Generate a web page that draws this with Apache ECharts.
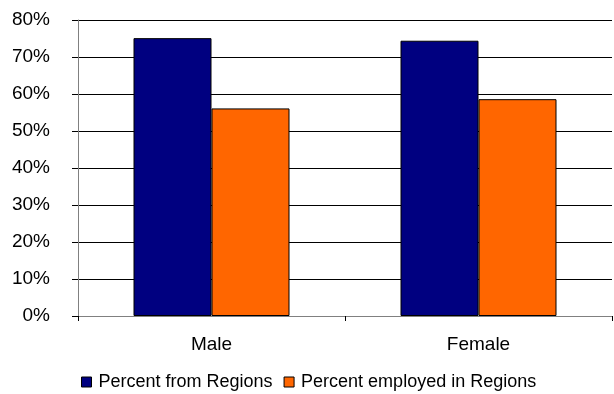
<!DOCTYPE html>
<html>
<head>
<meta charset="utf-8">
<script src="https://cdn.jsdelivr.net/npm/echarts@6/dist/echarts.min.js"></script>
<style>
html,body{margin:0;padding:0;background:#fff;}
#chart{width:614px;height:394px;}
</style>
</head>
<body>
<div id="chart"></div>
<script>
// Categories and series values (percent)
const categories = ['Male', 'Female'];
const percentFromRegions = [75.1, 74.4];
const percentEmployedInRegions = [56.1, 58.6];
const yTicks = [0, 10, 20, 30, 40, 50, 60, 70, 80];

const FONT = '"Liberation Sans", Arial, sans-serif';
const chart = echarts.init(document.getElementById('chart'), null, {renderer: 'canvas'});

chart.setOption({
  animation: false,
  backgroundColor: '#fff',
  grid: {left: 78, right: 2, top: 20, bottom: 78, containLabel: false},
  legend: {
    top: 373,
    left: 81,
    padding: 0,
    itemWidth: 10,
    itemHeight: 10,
    itemGap: 11,
    icon: 'rect',
    itemStyle: {borderColor: '#000', borderWidth: 1},
    textStyle: {fontFamily: FONT, fontSize: 18, lineHeight: 18, color: '#000', padding: [0, 0, 0, 2]},
    data: ['Percent from Regions', 'Percent employed in Regions']
  },
  xAxis: {
    type: 'category',
    data: categories,
    boundaryGap: true,
    axisLine: {lineStyle: {color: '#808080', width: 1}},
    axisTick: {show: true, length: 5, lineStyle: {color: '#000'}},
    axisLabel: {fontFamily: FONT, fontSize: 19, color: '#000', margin: 19},
    splitLine: {show: false}
  },
  yAxis: {
    type: 'value',
    min: yTicks[0],
    max: yTicks[yTicks.length - 1],
    interval: 10,
    axisLine: {show: true, lineStyle: {color: '#808080', width: 1}},
    axisTick: {show: true, length: 6, lineStyle: {color: '#000'}},
    axisLabel: {fontFamily: FONT, fontSize: 19, color: '#000', margin: 28, formatter: v => v + '%'},
    splitLine: {show: true, lineStyle: {color: '#000', width: 1}}
  },
  series: [
    {
      name: 'Percent from Regions',
      type: 'bar',
      data: percentFromRegions,
      barWidth: 78,
      barGap: 0,
      itemStyle: {color: '#000080', borderColor: '#000', borderWidth: 1}
    },
    {
      name: 'Percent employed in Regions',
      type: 'bar',
      data: percentEmployedInRegions,
      barWidth: 78,
      barGap: 0,
      itemStyle: {color: '#FF6600', borderColor: '#000', borderWidth: 1}
    }
  ]
});
</script>
</body>
</html>
